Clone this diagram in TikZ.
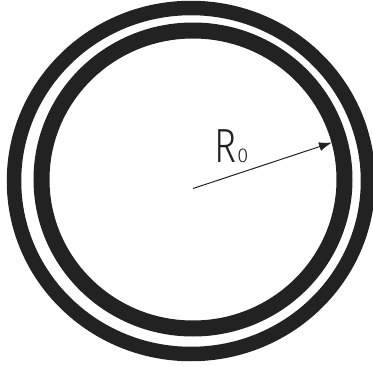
\documentclass[tikz,border=0pt]{standalone}
\usepackage{fontspec}
\setmainfont{Fira Sans Light}
\usetikzlibrary{arrows.meta}
\definecolor{ink}{HTML}{222222}
\begin{document}
\begin{tikzpicture}[x=1pt,y=-1pt,
  ring/.style={draw=ink},
  pointer/.style={draw=ink, line width=1pt, -{Latex[length=13pt,width=9pt]}}]
\useasboundingbox (0,0) rectangle (373,367);
\fill[white] (0,0) rectangle (373,367);
\draw[ring, line width=14.5pt] (191,181) ellipse [x radius=177, y radius=173];
\draw[ring, line width=16pt] (193,179.5) ellipse [x radius=151.5, y radius=149];
\coordinate (c) at (193,188.5);
\coordinate (tip) at (332,142.5);
\draw[pointer] (c) -- (tip);
\node[anchor=base west, inner sep=0pt, text=ink] (lbl) at (214,162)
  {\fontsize{48}{48}\selectfont \scalebox{0.78}[1]{R}\hspace{1pt}\fontsize{20}{20}\selectfont 0};
\end{tikzpicture}
\end{document}
